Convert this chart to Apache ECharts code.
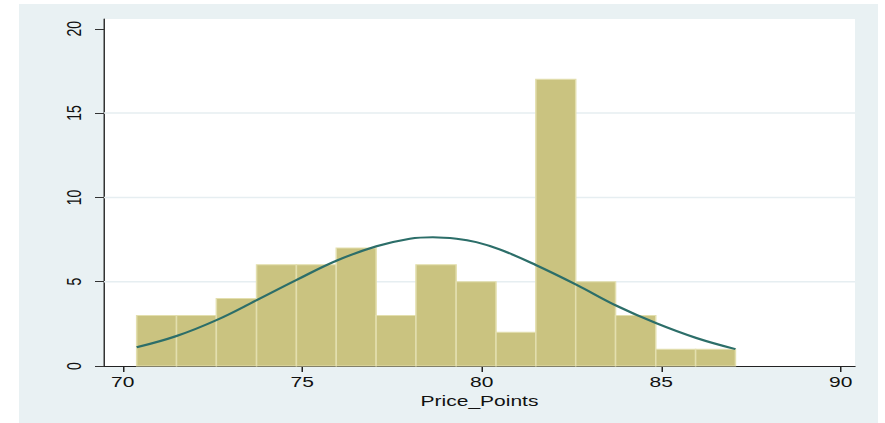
<!DOCTYPE html>
<html>
<head>
<meta charset="utf-8">
<script src="https://cdn.jsdelivr.net/npm/echarts@6/dist/echarts.min.js"></script>
<style>
html, body { margin: 0; padding: 0; background: #fff; }
#wrap { position: relative; width: 885px; height: 423px; overflow: hidden; }
#bg { position: absolute; left: 19px; top: 4px; width: 859px; height: 419px; background: #e9f1f3; }
/* the reference is a stata graph stretched sideways, so draw at 590 wide and stretch */
#container { position: absolute; left: 0; top: 0; width: 590px; height: 423px;
  transform: scaleX(1.5); transform-origin: 0 0; }
</style>
</head>
<body>
<div id="wrap"><div id="bg"></div><div id="container"></div></div>
<script>
// histogram bins (edges) and counts
var binEdges = [70.39, 71.50, 72.61, 73.73, 74.84, 75.95, 77.06, 78.17,
                79.29, 80.40, 81.51, 82.62, 83.73, 84.85, 85.96, 87.07];
var counts = [3, 3, 4, 6, 6, 7, 3, 6, 5, 2, 17, 5, 3, 1, 1];

// normal curve, points
var curveX = [70.39, 71.50, 72.62, 73.73, 74.84, 75.96, 77.07, 78.00, 78.64,
              79.30, 79.85, 80.50, 81.50, 82.64, 83.75, 84.86, 85.98, 87.07];
var curveY = [1.11, 1.78, 2.73, 3.90, 5.10, 6.25, 7.10, 7.55, 7.64,
              7.55, 7.35, 6.92, 6.00, 4.82, 3.58, 2.54, 1.66, 1.00];

var xTicks = [70, 75, 80, 85, 90];
var yTicks = [0, 5, 10, 15, 20];
var gridLines = [5, 10, 15];

var dom = document.getElementById('container');
var myChart = echarts.init(dom, null, { renderer: 'svg' });

var bars = [];
for (var i = 0; i < counts.length; i++) {
    bars.push([binEdges[i], binEdges[i + 1], counts[i]]);
}
var curve = [];
for (var j = 0; j < curveX.length; j++) {
    curve.push([curveX[j], curveY[j]]);
}

var font = "'Liberation Sans', Arial, sans-serif";

var option = {
    animation: false,
    grid: {
        left: 69.33, right: 20, top: 19, bottom: 57,
        show: true, backgroundColor: '#fff', borderWidth: 0
    },
    xAxis: {
        type: 'value',
        min: 69.48,
        max: 90.4,
        name: 'Price_Points',
        nameLocation: 'middle',
        nameGap: 23,
        nameTextStyle: { fontFamily: font, fontSize: 14, color: '#111' },
        axisLine: { lineStyle: { color: '#222', width: 1 } },
        axisTick: { show: true, length: 6, customValues: xTicks, lineStyle: { color: '#222' } },
        axisLabel: { customValues: xTicks, margin: 9, fontFamily: font, fontSize: 14, color: '#111' },
        splitLine: { show: false }
    },
    yAxis: {
        type: 'value',
        min: 0,
        max: 20.58,
        axisLine: { show: true, lineStyle: { color: '#333', width: 1 } },
        axisTick: { show: true, length: 6, customValues: yTicks, lineStyle: { color: '#333' } },
        axisLabel: { customValues: yTicks, rotate: 90, margin: 13, fontFamily: font, fontSize: 14, color: '#111' },
        splitLine: { show: false }
    },
    series: [
        {
            // horizontal grid lines, behind the bars
            type: 'custom',
            z: 1,
            silent: true,
            data: gridLines,
            encode: { y: 0 },
            renderItem: function (params, api) {
                var cs = params.coordSys;
                var y = api.coord([cs.x, api.value(0)])[1];
                y = api.coord([70, api.value(0)])[1];
                return {
                    type: 'line',
                    shape: { x1: cs.x, y1: y, x2: cs.x + cs.width, y2: y },
                    style: { stroke: '#e6eef1', lineWidth: 1.5 }
                };
            }
        },
        {
            type: 'custom',
            z: 2,
            data: bars,
            encode: { x: [0, 1], y: 2 },
            renderItem: function (params, api) {
                var p0 = api.coord([api.value(0), api.value(2)]);
                var p1 = api.coord([api.value(1), 0]);
                return {
                    type: 'rect',
                    shape: { x: p0[0], y: p0[1], width: p1[0] - p0[0], height: p1[1] - p0[1] },
                    style: { fill: '#cac380', stroke: '#e3dfae', lineWidth: 1 }
                };
            }
        },
        {
            type: 'line',
            z: 3,
            data: curve,
            smooth: 0.4,
            showSymbol: false,
            lineStyle: { color: '#2c6e69', width: 2 }
        }
    ]
};

myChart.setOption(option);
</script>
</body>
</html>
